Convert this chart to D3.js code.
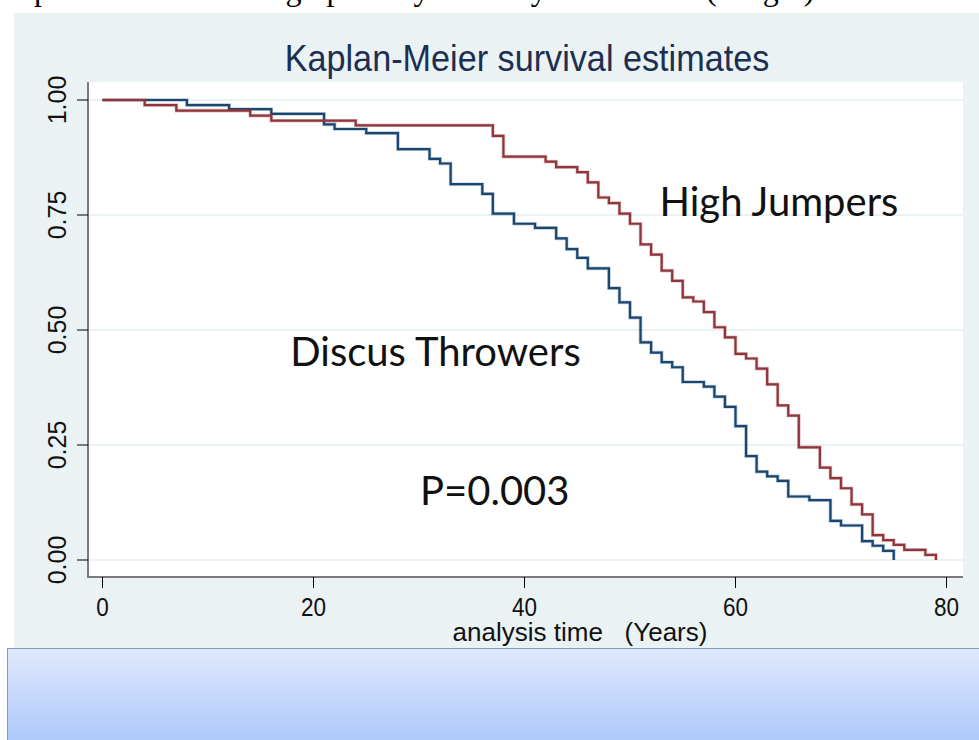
<!DOCTYPE html>
<html>
<head>
<meta charset="utf-8">
<script src="https://cdn.jsdelivr.net/npm/d3@7"></script>
<style>
  body { margin: 0; background: #fff; }
  svg { display: block; }
</style>
</head>
<body>
<svg id="chart" width="979" height="740"></svg>
<script>
// tick values
const xTicks = [0, 20, 40, 60, 80];
const yTicks = [0, 0.25, 0.5, 0.75, 1];

// Kaplan-Meier steps (time in years, survival)
const discusTimes = [0, 8, 12, 16, 21, 22, 25, 28, 31, 32, 33, 36, 37, 39, 41, 43, 44, 45, 46, 48,
  49, 50, 51, 52, 53, 54, 55, 57, 58, 59, 60, 61, 62, 63, 64, 65, 67, 69, 70, 72, 73, 74, 75];
const discusSurv = [1.000, 0.989, 0.980, 0.970, 0.947, 0.937, 0.928, 0.893, 0.872, 0.862,
  0.817, 0.796, 0.753, 0.731, 0.722, 0.699, 0.676, 0.657, 0.634, 0.591,
  0.560, 0.527, 0.473, 0.451, 0.430, 0.419, 0.387, 0.377, 0.355, 0.333,
  0.291, 0.226, 0.192, 0.182, 0.172, 0.138, 0.130, 0.085, 0.075, 0.041,
  0.031, 0.020, 0.000];

const jumperTimes = [0, 4, 7, 14, 16, 24, 37, 38, 42, 43, 45, 46, 47, 48, 49, 50, 51, 52, 53, 54,
  55, 56, 57, 58, 59, 60, 61, 62, 63, 64, 65, 66, 68, 69, 70, 71, 72, 73, 74, 75, 76, 78, 79];
const jumperSurv = [1.000, 0.989, 0.977, 0.966, 0.955, 0.945, 0.922, 0.877, 0.866, 0.854,
  0.843, 0.821, 0.788, 0.776, 0.753, 0.731, 0.686, 0.664, 0.629, 0.607,
  0.571, 0.562, 0.539, 0.506, 0.484, 0.448, 0.438, 0.416, 0.382, 0.336,
  0.314, 0.245, 0.201, 0.178, 0.156, 0.121, 0.099, 0.054, 0.043, 0.033,
  0.022, 0.011, 0.000];

const groupNames = ['Discus Throwers', 'High Jumpers'];
const pLabel = 'P=0.003';

const svg = d3.select('#chart');

const x = d3.scaleLinear().domain([0, 80]).range([102.5, 946.5]);
const y = d3.scaleLinear().domain([0, 1]).range([560, 100]);

const plot = { left: 88, right: 963, top: 82, bottom: 577 };

// cut-off line of document text above the figure (only descenders show)
svg.append('text')
  .attr('x', 34)
  .attr('y', 0)
  .attr('font-family', 'Liberation Serif, serif')
  .attr('font-size', 32)
  .attr('fill', '#000')
  .text('plotted then shown graphically for body mass index (weight)');

// graph region
svg.append('rect')
  .attr('x', 14).attr('y', 13)
  .attr('width', 979 - 14).attr('height', 648 - 13)
  .attr('fill', '#eaf2f3');

svg.append('rect')
  .attr('x', plot.left).attr('y', plot.top)
  .attr('width', plot.right - plot.left).attr('height', plot.bottom - plot.top)
  .attr('fill', '#fff');

// grid
svg.append('g')
  .selectAll('line')
  .data(yTicks)
  .join('line')
    .attr('x1', plot.left).attr('x2', plot.right)
    .attr('y1', d => y(d)).attr('y2', d => y(d))
    .attr('stroke', '#eaf2f3')
    .attr('stroke-width', 2);

// title
svg.append('text')
  .attr('transform', 'translate(527,71) scale(0.95,1)')
  .attr('text-anchor', 'middle')
  .attr('font-family', 'Liberation Sans, Arial, sans-serif')
  .attr('font-size', 36)
  .attr('fill', '#1c2f52')
  .text('Kaplan-Meier survival estimates');

// y axis
const yAxis = svg.append('g');
yAxis.append('line')
  .attr('x1', plot.left).attr('x2', plot.left)
  .attr('y1', plot.top).attr('y2', plot.bottom + 1)
  .attr('stroke', '#7a7a7a').attr('stroke-width', 2);
yAxis.selectAll('.tick')
  .data(yTicks)
  .join('line')
    .attr('x1', 77).attr('x2', plot.left)
    .attr('y1', d => y(d)).attr('y2', d => y(d))
    .attr('stroke', '#000').attr('stroke-width', 1);
yAxis.selectAll('text')
  .data(yTicks)
  .join('text')
    .attr('transform', d => `translate(66,${y(d)}) rotate(-90)`)
    .attr('text-anchor', 'middle')
    .attr('font-family', 'Liberation Sans, Arial, sans-serif')
    .attr('font-size', 25)
    .attr('fill', '#111')
    .text(d3.format('.2f'));

// x axis
const xAxis = svg.append('g');
xAxis.append('line')
  .attr('x1', plot.left - 1).attr('x2', plot.right)
  .attr('y1', plot.bottom).attr('y2', plot.bottom)
  .attr('stroke', '#7a7a7a').attr('stroke-width', 2);
xAxis.selectAll('line.tick')
  .data(xTicks)
  .join('line')
    .attr('class', 'tick')
    .attr('x1', d => x(d)).attr('x2', d => x(d))
    .attr('y1', plot.bottom).attr('y2', plot.bottom + 11)
    .attr('stroke', '#000').attr('stroke-width', 1);
xAxis.selectAll('text')
  .data(xTicks)
  .join('text')
    .attr('transform', d => `translate(${x(d)},616) scale(0.9,1)`)
    .attr('text-anchor', 'middle')
    .attr('font-family', 'Liberation Sans, Arial, sans-serif')
    .attr('font-size', 25)
    .attr('fill', '#111')
    .text(d => d);

svg.append('text')
  .attr('transform', 'translate(580,641)')
  .attr('text-anchor', 'middle')
  .attr('font-family', 'Liberation Sans, Arial, sans-serif')
  .attr('font-size', 26)
  .attr('fill', '#111')
  .attr('xml:space', 'preserve')
  .style('white-space', 'pre')
  .text('analysis time   (Years)');

// survival curves
const line = d3.line()
  .x(d => x(d[0]))
  .y(d => y(d[1]))
  .curve(d3.curveStepAfter);

const series = [
  { name: groupNames[0], color: '#1a476f', pts: d3.zip(discusTimes, discusSurv) },
  { name: groupNames[1], color: '#90353b', pts: d3.zip(jumperTimes, jumperSurv) }
];

series.forEach(s => {
  svg.append('path')
    .datum(s.pts)
    .attr('fill', 'none')
    .attr('stroke', s.color)
    .attr('stroke-opacity', 0.3)
    .attr('stroke-width', 3.6)
    .attr('d', line);
  svg.append('path')
    .datum(s.pts)
    .attr('fill', 'none')
    .attr('stroke', s.color)
    .attr('stroke-width', 2.2)
    .attr('d', line);
});

// annotations
const notes = [
  { text: groupNames[1], t: 52.8, s: 0.748 },
  { text: groupNames[0], t: 17.8, s: 0.422 },
  { text: pLabel, t: 30.1, s: 0.12 }
];
svg.append('g')
  .selectAll('text')
  .data(notes)
  .join('text')
    .attr('x', d => x(d.t))
    .attr('y', d => y(d.s))
    .attr('font-family', 'Lato, Carlito, sans-serif')
    .attr('font-size', 40)
    .attr('fill', '#111')
    .text(d => d.text);

// blue box below the figure
const grad = svg.append('defs').append('linearGradient')
  .attr('id', 'boxfill')
  .attr('x1', 0).attr('x2', 0).attr('y1', 0).attr('y2', 1);
grad.append('stop').attr('offset', '0%').attr('stop-color', '#dfe9fc');
grad.append('stop').attr('offset', '100%').attr('stop-color', '#a9c6fa');

svg.append('rect')
  .attr('x', 7.5).attr('y', 648.5)
  .attr('width', 990).attr('height', 100)
  .attr('fill', 'url(#boxfill)')
  .attr('stroke', '#7e9dcc')
  .attr('stroke-width', 1);
</script>
</body>
</html>
